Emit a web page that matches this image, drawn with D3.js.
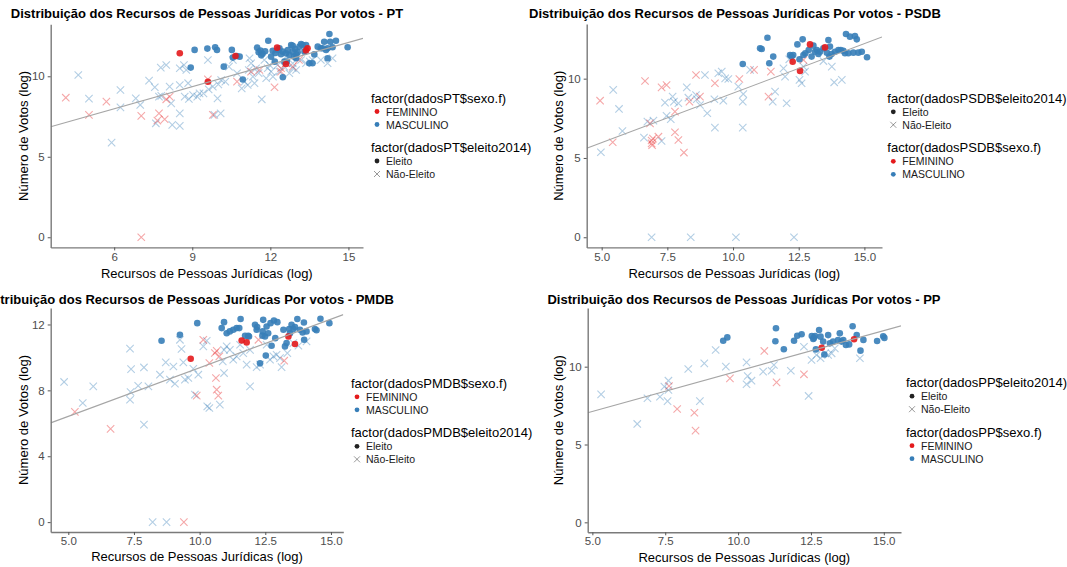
<!DOCTYPE html>
<html>
<head>
<meta charset="utf-8">
<script src="https://cdn.jsdelivr.net/npm/d3@7"></script>
<style>
body { margin: 0; background: #fff; }
text { font-family: "Liberation Sans", Arial, sans-serif; }
</style>
</head>
<body>
<div id="chart"></div>
<script>
// colours for sexo.f (Set1)
let fem_color = "#E41A1C"
let masc_color = "#377EB8"

// ---- PT ----  [recursos (log), votos (log)]
const ptEleitoMasc = [[9.09,11.64],[9.58,11.72],[9.88,11.8],[9.95,11.63],[8.94,10.54],[10.21,10.6],[10.52,11.64],[10.56,11.16],[10.71,11.26],[10.82,11.22],[10.94,9.8],[11.49,11.78],[11.55,11.5],[11.62,11.6],[11.7,11.4],[11.8,11.55],[11.92,12.21],[12.03,11.22],[12.09,11.59],[12.17,10.91],[12.3,11.64],[12.35,11.74],[12.41,11.37],[12.48,11.53],[12.48,9.94],[12.54,10.91],[12.6,11.43],[12.63,10.91],[12.67,11.63],[12.73,11.32],[12.8,11.94],[12.86,11.53],[12.86,11.9],[12.92,11.22],[12.99,11.12],[13.05,11.5],[13.12,11.84],[13.18,12.0],[13.24,11.94],[13.31,11.53],[13.37,11.94],[13.5,10.81],[13.62,10.81],[13.69,11.36],[13.82,11.84],[13.94,11.74],[14.01,11.74],[14.07,12.15],[14.14,11.63],[14.2,11.12],[14.2,11.74],[14.27,12.63],[14.3,12.15],[14.39,11.8],[14.52,12.21],[14.97,11.8],[11.65,11.3],[12.2,11.45],[12.95,11.7],[13.0,11.35]]
const ptEleitoFem = [[8.52,11.43],[9.6,9.66],[10.66,11.26],[12.26,11.78],[12.6,10.76],[13.37,11.6],[13.43,11.74]]
const ptNaoMasc = [[4.62,10.08],[5.03,8.61],[6.24,9.15],[6.24,8.07],[6.83,8.63],[5.9,5.88],[7.0,8.22],[7.34,9.73],[7.56,9.32],[7.6,7.08],[7.72,8.74],[7.81,8.78],[7.79,10.54],[8.0,10.7],[8.13,9.36],[8.19,8.32],[8.23,6.98],[8.52,6.92],[8.52,7.7],[8.52,9.46],[8.52,10.5],[8.68,10.7],[8.71,8.74],[8.77,10.39],[8.84,9.57],[8.87,8.59],[9.03,8.84],[9.19,8.74],[9.28,8.94],[9.43,8.94],[9.6,11.01],[9.63,9.19],[9.79,9.36],[9.85,7.6],[9.97,8.63],[10.09,7.7],[10.11,9.77],[10.27,9.67],[10.41,10.6],[10.56,11.01],[10.72,10.19],[10.9,9.25],[11.01,9.67],[11.13,9.46],[11.17,10.39],[11.2,11.12],[11.26,10.81],[11.33,9.98],[11.39,9.57],[11.45,10.5],[11.67,8.57],[11.77,11.01],[11.84,9.88],[11.97,10.7],[12.03,10.29],[12.1,9.98],[12.28,10.7],[12.35,10.29],[12.54,10.6],[12.6,11.22],[12.73,10.19],[12.86,10.5],[12.86,10.81],[12.99,10.39],[13.18,11.01],[13.37,10.81],[13.52,10.91],[13.62,11.01],[13.94,11.01],[14.2,10.81],[14.39,11.12],[11.55,10.2],[11.9,10.5],[10.0,9.5]]
const ptNaoFem = [[4.14,8.67],[5.03,7.6],[5.7,8.43],[7.04,7.54],[7.04,0],[7.66,7.25],[7.72,7.7],[7.94,7.33],[8.0,8.57],[8.13,8.74],[9.6,9.81],[9.79,7.6],[10.72,9.67],[11.26,10.29],[11.58,10.39],[12.16,9.32],[12.41,10.29],[12.41,10.5],[12.6,10.81],[12.86,10.6],[13.1,11.01]]
const ptFit = [5.24, 0.4575] // intercept, slope

// ---- PSDB ----
const psdbEleitoMasc = [[10.37,10.92],[11.03,11.91],[11.09,11.87],[11.31,12.58],[11.38,10.97],[11.53,11.39],[12.17,11.49],[12.23,11.39],[12.29,11.49],[12.45,12.16],[12.53,11.22],[12.65,12.48],[12.68,11.49],[12.88,11.81],[12.99,11.39],[13.06,12.08],[13.12,11.7],[13.19,11.81],[13.31,11.7],[13.44,11.91],[13.57,11.64],[13.63,12.44],[13.69,12.02],[13.67,11.39],[13.75,11.55],[13.88,11.7],[14.01,11.81],[14.1,11.81],[14.2,11.76],[14.26,11.6],[14.3,12.82],[14.39,11.6],[14.45,12.65],[14.58,11.64],[14.64,12.69],[14.71,12.48],[14.77,11.64],[14.9,11.7],[15.1,11.35],[12.75,11.6],[13.25,11.55]]
const psdbEleitoFem = [[12.27,11.07],[12.55,10.49],[12.93,12.16],[13.5,11.97]]
const psdbNaoMasc = [[4.97,5.36],[5.44,9.29],[5.66,8.09],[5.79,6.7],[6.61,6.28],[6.74,7.29],[6.9,0],[6.97,7.35],[7.28,6.07],[7.41,8.49],[7.47,7.65],[7.63,7.44],[7.7,8.87],[7.75,8.55],[7.92,8.45],[8.24,9.45],[8.3,8.8],[8.39,0],[8.59,8.97],[8.62,8.7],[8.74,8.34],[8.93,10.23],[9.02,7.82],[9.29,8.7],[9.31,6.91],[9.44,10.34],[9.57,10.44],[9.63,8.61],[9.7,10.02],[9.82,9.98],[10.11,0],[10.2,9.5],[10.39,9.03],[10.37,8.55],[10.37,6.91],[10.65,10.55],[11.51,8.55],[11.6,9.18],[11.92,10.65],[11.98,10.13],[12.04,8.45],[12.14,11.22],[12.32,0],[12.53,9.92],[12.61,9.71],[12.68,10.76],[12.74,10.44],[13.44,11.11],[13.76,10.76],[13.85,9.77],[14.14,9.92]]
const psdbNaoFem = [[4.94,8.61],[5.42,5.99],[6.65,9.85],[6.84,7.18],[6.9,6.1],[6.9,5.92],[6.92,5.8],[6.95,6.22],[7.16,6.34],[7.28,9.45],[7.47,9.6],[7.79,7.92],[7.79,6.62],[7.92,6.13],[8.13,5.34],[8.34,8.55],[8.59,10.23],[8.74,8.87],[9.31,9.71],[10.24,9.98],[10.8,10.55],[11.35,8.87],[11.44,10.44],[12.68,11.18]]
const psdbFit = [2.84, 0.6246]

// ---- PMDB ----
const pmdbEleitoMasc = [[8.55,11.01],[9.25,11.37],[9.91,12.08],[10.84,11.78],[10.93,12.14],[11.03,11.47],[11.15,11.58],[11.28,11.68],[11.41,11.78],[11.51,11.78],[11.56,12.33],[11.73,11.31],[11.85,11.31],[11.88,11.27],[12.11,11.98],[12.17,11.68],[12.19,11.84],[12.3,9.64],[12.39,11.32],[12.4,11.58],[12.42,12.28],[12.49,11.27],[12.52,10.11],[12.55,11.88],[12.61,11.47],[12.7,12.08],[12.74,10.71],[12.83,12.24],[12.88,11.17],[12.96,12.14],[13.19,11.68],[13.25,10.67],[13.31,10.87],[13.41,11.72],[13.44,11.47],[13.5,11.98],[13.57,11.72],[13.63,11.84],[13.72,12.33],[13.82,11.68],[13.92,11.52],[13.97,12.12],[13.98,11.07],[14.07,11.58],[14.39,11.72],[14.45,11.65],[14.6,12.35],[14.94,12.08]]
const pmdbEleitoFem = [[9.66,9.92],[11.6,11.03],[11.79,10.91],[13.38,11.27],[13.63,10.81]]
const pmdbNaoMasc = [[4.84,8.51],[5.55,7.23],[5.95,8.24],[7.35,10.53],[7.39,9.29],[7.37,7.9],[7.35,7.43],[7.66,8.28],[7.88,9.39],[7.88,5.92],[8.05,8.24],[8.21,0],[8.49,8.95],[8.71,9.7],[8.74,0],[8.87,8.65],[9.0,9.45],[9.06,8.4],[9.25,11.07],[9.31,10.51],[9.38,9.7],[9.44,8.65],[9.57,8.75],[9.76,9.31],[9.82,7.74],[9.95,8.95],[10.14,10.67],[10.27,11.01],[10.29,7.03],[10.37,6.93],[10.77,7.13],[10.88,9.76],[10.93,10.46],[10.93,9.05],[11.03,10.67],[11.15,10.46],[11.28,9.86],[11.41,10.06],[11.54,10.77],[11.66,10.26],[11.79,9.56],[11.92,10.46],[11.92,8.24],[12.17,9.41],[12.3,9.56],[12.55,10.77],[12.68,9.86],[12.81,10.06],[12.93,10.16],[13.06,9.96],[13.12,9.41],[13.34,10.26],[13.57,10.87],[13.76,10.71],[14.07,10.97]]
const pmdbNaoFem = [[5.25,6.69],[6.61,5.66],[9.4,0],[9.89,7.68],[10.14,11.07],[10.37,9.66],[10.58,10.27],[10.62,8.75],[10.65,10.4],[10.65,8.04],[10.71,7.68],[10.75,10.06],[12.24,11.07],[13.22,9.8]]
const pmdbFit = [3.47, 0.59]

// ---- PP ----
const ppEleitoMasc = [[9.49,11.67],[9.63,11.88],[11.3,12.47],[11.28,11.63],[11.57,11.12],[11.92,11.67],[12.03,11.99],[12.18,12.08],[12.53,11.97],[12.58,11.78],[12.64,11.97],[12.67,11.11],[12.78,12.36],[12.83,11.93],[12.92,11.61],[12.96,10.78],[13.09,12.03],[13.15,11.5],[13.26,11.61],[13.43,11.71],[13.49,12.14],[13.55,11.61],[13.61,11.71],[13.7,11.39],[13.81,11.43],[13.93,12.6],[14.07,12.04],[14.2,11.03],[14.3,11.72],[14.77,11.65],[14.98,11.95],[15.02,11.85],[12.6,11.85]]
const ppEleitoFem = [[12.87,11.22],[13.98,11.76]]
const ppNaoMasc = [[5.3,8.22],[6.54,6.32],[6.89,7.97],[7.32,8.07],[7.47,8.72],[7.61,9.1],[7.61,8.5],[7.58,7.79],[8.29,9.85],[8.69,7.79],[8.84,10.21],[9.23,11.07],[9.58,10.0],[10.29,10.28],[10.33,9.4],[10.29,8.87],[10.46,9.1],[10.86,9.68],[11.15,9.74],[11.23,10.11],[11.81,9.74],[12.26,11.28],[12.42,8.12],[12.52,10.43],[12.69,10.75],[12.83,10.54],[12.98,10.86],[13.09,10.75],[13.21,10.86],[13.32,11.18],[14.18,10.54]]
const ppNaoFem = [[7.63,8.76],[7.91,7.28],[8.5,7.04],[8.54,5.89],[9.72,9.25],[10.9,11.01],[11.32,8.99],[12.26,9.51]]
const ppFit = [4.53, 0.519]

// ticks
const ptXTicks = [6, 9, 12, 15]
const ptYTicks = [0, 5, 10]
const psdbXTicks = [5, 7.5, 10, 12.5, 15]
const psdbYTicks = [0, 5, 10]
const pmdbXTicks = [5, 7.5, 10, 12.5, 15]
const pmdbYTicks = [0, 4, 8, 12]
const ppXTicks = [5, 7.5, 10, 12.5, 15]
const ppYTicks = [0, 5, 10]

const sexoLabels = ["FEMININO", "MASCULINO"]
const eleitoLabels = ["Eleito", "Não-Eleito"]

let panels = [
    {name: "PT", em: ptEleitoMasc, ef: ptEleitoFem, nm: ptNaoMasc, nf: ptNaoFem, fit: ptFit,
     xTicks: ptXTicks, yTicks: ptYTicks, xFmt: d3.format("d"), order: ["sexo", "eleito"],
     box: {left: 50.7, right: 363, top: 24.3, bottom: 247.4, xDomain: [3.56, 15.56], yDomain: [-0.63, 13.23]},
     titleX: 207, titleY: 18, ylabX: 28, xlabY: 278, legX: 371, legY: 98},
    {name: "PSDB", em: psdbEleitoMasc, ef: psdbEleitoFem, nm: psdbNaoMasc, nf: psdbNaoFem, fit: psdbFit,
     xTicks: psdbXTicks, yTicks: psdbYTicks, xFmt: d3.format(".1f"), order: ["eleito", "sexo"],
     box: {left: 586.7, right: 882, top: 24.1, bottom: 247.4, xDomain: [4.43, 15.67], yDomain: [-0.64, 13.44]},
     titleX: 735, titleY: 18, ylabX: 563, xlabY: 278, legX: 887.3, legY: 98.3},
    {name: "PMDB", em: pmdbEleitoMasc, ef: pmdbEleitoFem, nm: pmdbNaoMasc, nf: pmdbNaoFem, fit: pmdbFit,
     xTicks: pmdbXTicks, yTicks: pmdbYTicks, xFmt: d3.format(".1f"), order: ["sexo", "eleito"],
     box: {left: 50.7, right: 343.3, top: 308, bottom: 532, xDomain: [4.33, 15.47], yDomain: [-0.6, 13.0]},
     titleX: 187, titleY: 303.5, ylabX: 28, xlabY: 561, legX: 351, legY: 383.3},
    {name: "PP", em: ppEleitoMasc, ef: ppEleitoFem, nm: ppNaoMasc, nf: ppNaoFem, fit: ppFit,
     xTicks: ppXTicks, yTicks: ppYTicks, xFmt: d3.format(".1f"), order: ["eleito", "sexo"],
     box: {left: 587.7, right: 901, top: 308, bottom: 532.3, xDomain: [4.84, 15.59], yDomain: [-0.64, 13.77]},
     titleX: 744, titleY: 303.5, ylabX: 563, xlabY: 562, legX: 906, legY: 382.7}
]

let svg = d3.select("#chart").append("svg")
    .attr("width", 1067)
    .attr("height", 567)

let cross_path = function(s) {
    return `M${-s},${-s}L${s},${s}M${-s},${s}L${s},${-s}`
}

function draw_panel(p, idx) {
    let b = p.box
    let x = d3.scaleLinear().domain(b.xDomain).range([b.left, b.right])
    let y = d3.scaleLinear().domain(b.yDomain).range([b.bottom, b.top])
    let g = svg.append("g").attr("class", "panel-" + p.name)

    g.append("clipPath").attr("id", "clip" + idx)
        .append("rect")
        .attr("x", b.left).attr("y", b.top)
        .attr("width", b.right - b.left).attr("height", b.bottom - b.top)

    let plot = g.append("g").attr("clip-path", `url(#clip${idx})`)

    // Não-Eleito: crosses
    let crosses = [].concat(
        p.nm.map(d => ({v: d, c: masc_color})),
        p.nf.map(d => ({v: d, c: fem_color})))
    plot.selectAll(".nao")
        .data(crosses)
        .enter().append("path")
        .attr("class", "nao")
        .attr("d", cross_path(3.7))
        .attr("transform", d => `translate(${x(d.v[0])},${y(d.v[1])})`)
        .style("fill", "none")
        .style("stroke", d => d.c)
        .style("stroke-width", 1.1)
        .style("stroke-opacity", 0.38)

    // Eleito: filled circles
    let dots = [].concat(
        p.em.map(d => ({v: d, c: masc_color})),
        p.ef.map(d => ({v: d, c: fem_color})))
    plot.selectAll(".eleito")
        .data(dots)
        .enter().append("circle")
        .attr("class", "eleito")
        .attr("cx", d => x(d.v[0]))
        .attr("cy", d => y(d.v[1]))
        .attr("r", 3.3)
        .style("fill", d => d.c)
        .style("fill-opacity", 0.9)

    // lm line
    let xs = b.xDomain
    plot.append("line")
        .attr("x1", x(xs[0])).attr("y1", y(p.fit[0] + p.fit[1] * xs[0]))
        .attr("x2", x(xs[1])).attr("y2", y(p.fit[0] + p.fit[1] * xs[1]))
        .style("stroke", "#a6a6a6")
        .style("stroke-width", 1.1)

    // axes
    let xAxis = g.append("g")
        .attr("transform", `translate(0,${b.bottom})`)
        .call(d3.axisBottom(x).tickValues(p.xTicks).tickFormat(p.xFmt).tickSize(3).tickSizeOuter(0).tickPadding(2))
    let yAxis = g.append("g")
        .attr("transform", `translate(${b.left},0)`)
        .call(d3.axisLeft(y).tickValues(p.yTicks).tickFormat(d3.format("d")).tickSize(3).tickSizeOuter(0).tickPadding(3))
    ;[xAxis, yAxis].forEach(a => {
        a.select(".domain").style("stroke", "#7a7a7a").style("stroke-width", 1.4)
        a.selectAll(".tick line").style("stroke", "#555")
        a.selectAll(".tick text")
            .style("fill", "#4d4d4d")
            .style("font-size", "11.5px")
            .style("font-family", "'Liberation Sans', Arial, sans-serif")
    })

    // titles
    g.append("text")
        .attr("x", p.titleX).attr("y", p.titleY)
        .attr("text-anchor", "middle")
        .style("font-size", "13px").style("font-weight", "bold")
        .text("Distribuição dos Recursos de Pessoas Jurídicas Por votos - " + p.name)

    g.append("text")
        .attr("x", (b.left + b.right) / 2).attr("y", p.xlabY)
        .attr("text-anchor", "middle")
        .style("font-size", "13px")
        .text("Recursos de Pessoas Jurídicas (log)")

    g.append("text")
        .attr("transform", `translate(${p.ylabX},${(b.top + b.bottom) / 2}) rotate(-90)`)
        .attr("text-anchor", "middle")
        .style("font-size", "13px")
        .text("Número de Votos (log)")

    // legends
    let ly = p.legY
    p.order.forEach((which) => {
        let leg = g.append("g")
        leg.append("text")
            .attr("x", p.legX).attr("y", ly)
            .attr("dominant-baseline", "central")
            .style("font-size", "13px")
            .text(which == "sexo" ? `factor(dados${p.name}$sexo.f)` : `factor(dados${p.name}$eleito2014)`)
        let labels = which == "sexo" ? sexoLabels : eleitoLabels
        labels.forEach((lab, i) => {
            let cy = ly + 13.5 + i * 13
            if (which == "sexo") {
                leg.append("circle")
                    .attr("cx", p.legX + 6).attr("cy", cy).attr("r", 2.4)
                    .style("fill", i == 0 ? fem_color : masc_color)
            } else if (i == 0) {
                leg.append("circle")
                    .attr("cx", p.legX + 6).attr("cy", cy).attr("r", 2.4)
                    .style("fill", "#222")
            } else {
                leg.append("path")
                    .attr("d", cross_path(3))
                    .attr("transform", `translate(${p.legX + 6},${cy})`)
                    .style("fill", "none").style("stroke", "#000")
                    .style("stroke-opacity", 0.4).style("stroke-width", 1)
            }
            leg.append("text")
                .attr("x", p.legX + 15).attr("y", cy)
                .attr("dominant-baseline", "central")
                .style("font-size", "10.5px")
                .style("fill", "#1a1a1a")
                .text(lab)
        })
        ly += 49.5
    })
}

panels.forEach((p, i) => draw_panel(p, i))
</script>
</body>
</html>
